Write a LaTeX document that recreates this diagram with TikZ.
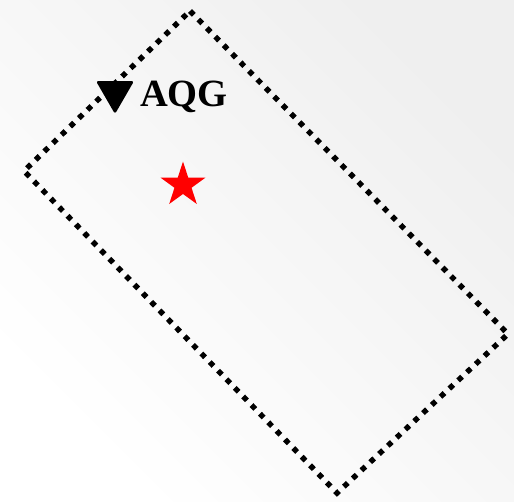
\documentclass[tikz,border=0pt]{standalone}
\usepackage{fontspec}
\setmainfont{Liberation Serif}
\usepackage{xcolor}
\usepackage{tikz}
\usetikzlibrary{positioning,shapes.geometric}
\definecolor{bgGray}{HTML}{EFEFEF}
\definecolor{cStar}{HTML}{FF0000}

\begin{document}
\begin{tikzpicture}[x=1pt,y=-1pt,
    zoneline/.style={line width=5.4pt,dash pattern=on 5.4pt off 6.6pt,line join=miter},
    sitemark/.style={regular polygon,regular polygon sides=3,shape border rotate=180,fill=black,minimum size=44pt,inner sep=0pt,rounded corners=2.5pt},
    sitelab/.style={font=\fontsize{38.5}{42}\selectfont\bfseries,inner sep=0pt,anchor=base west},
    hotspot/.style={star,star points=5,star point ratio=2.618,fill=cStar,minimum size=47pt,inner sep=0pt}]
  % background, light diagonal fade
  \shade[bottom color=white,top color=bgGray,shading angle=-45] (0,0) rectangle (514,501);
  \useasboundingbox (0,0) rectangle (514,501);
  % rotated survey area
  \coordinate (nTop) at (190,11);
  \coordinate (nRight) at (508,334);
  \coordinate (nBottom) at (337,493);
  \coordinate (nLeft) at (24,171);
  \draw[zoneline] (nTop) -- (nRight) -- (nBottom) -- (nLeft) -- cycle;
  \node[sitemark] (aqgMark) at (115,92) {};
  \node[sitelab] (aqgLab) at (140,106) {AQG};
  \node[hotspot] (redStar) at (183,185) {};
\end{tikzpicture}
\end{document}
